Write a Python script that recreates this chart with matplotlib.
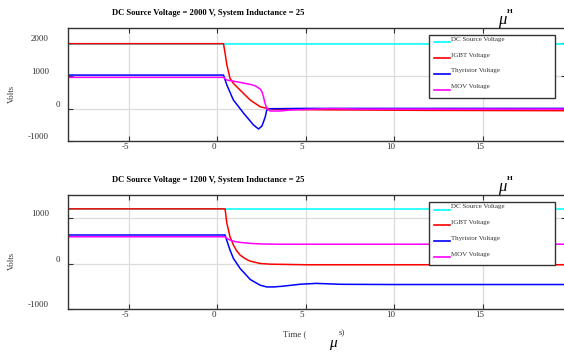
import matplotlib
matplotlib.use('Agg')
import matplotlib.pyplot as plt
from matplotlib.transforms import ScaledTranslation

plt.rcParams['font.family'] = ['Liberation Serif', 'DejaVu Serif']
plt.rcParams['axes.unicode_minus'] = False

# ---- data (time in microseconds, values in volts) ----
names = ['DC Source Voltage', 'IGBT Voltage', 'Thyristor Voltage', 'MOV Voltage']
colors = ['#00ffff', '#ff0000', '#0000ff', '#ff00ff']
xticks = [-5, 0, 5, 10, 15]
yticks = [-1000, 0, 1000, 2000]

# upper panel: 2000 V source
top_dc_t = [-8.42, 19.7]
top_dc_v = [1975, 1975]
top_igbt_t = [-8.42, 0.36, 0.45, 0.55, 0.73, 0.92, 1.3, 1.87, 2.43, 2.8, 3.2, 5, 12, 19.7]
top_igbt_v = [1990, 1990, 1700, 1340, 930, 776, 570, 266, 61, 12, -15, -30, -50, -60]
top_thy_t = [-8.42, 0.36, 0.55, 0.92, 1.5, 2.06, 2.34, 2.53, 2.62, 2.72, 2.8, 3.0, 5, 19.7]
top_thy_v = [1030, 1030, 725, 266, -140, -500, -620, -530, -400, -245, -40, 0, 10, 10]
top_mov_t = [-8.42, 0.36, 0.55, 1.3, 1.87, 2.15, 2.43, 2.53, 2.62, 2.68, 2.8, 3.0, 3.56, 4.1, 5.0, 6.5, 8, 19.7]
top_mov_v = [960, 960, 878, 806, 745, 703, 602, 520, 367, 214, 12, -70, -70, -40, -20, 5, -10, -10]

# lower panel: 1200 V source
bot_dc_t = [-8.42, 19.7]
bot_dc_v = [1200, 1200]
bot_igbt_t = [-8.42, 0.45, 0.55, 0.73, 0.92, 1.1, 1.3, 1.6, 1.87, 2.43, 3.0, 5, 10, 19.7]
bot_igbt_v = [1210, 1210, 892, 596, 413, 290, 192, 110, 60, 8, -7, -20, -20, -20]
bot_thy_t = [-8.42, 0.45, 0.55, 0.73, 0.92, 1.3, 1.87, 2.43, 2.8, 3.2, 3.7, 4.7, 5.6, 7, 10, 19.7]
bot_thy_v = [635, 635, 510, 302, 119, -102, -344, -470, -508, -508, -492, -448, -430, -450, -455, -455]
bot_mov_t = [-8.42, 0.45, 0.55, 0.73, 1.0, 1.3, 1.87, 2.5, 3.5, 19.7]
bot_mov_v = [596, 596, 560, 523, 490, 472, 450, 438, 432, 432]

W, H = 564, 353
fig = plt.figure(figsize=(W / 100, H / 100), dpi=100)


def px_axes(l, t, r, b):
    return fig.add_axes([l / W, 1 - b / H, (r - l) / W, (b - t) / H])


def draw_panel(ax, series, ylim, title, title_y):
    lines = []
    for (t, v), c in zip(series, colors):
        ln, = ax.plot(t, v, color=c, lw=1.1)
        lines.append(ln)
    ax.set_xlim(-8.42, 19.7)
    ax.set_ylim(*ylim)
    ax.set_xticks(xticks)
    ax.set_yticks([y for y in yticks if y <= ylim[1]])
    ax.grid(True, color='#dcdcdc', lw=0.9)
    ax.set_axisbelow(True)
    for s in ax.spines.values():
        s.set_color('#333333')
        s.set_linewidth(1.0)
    ax.tick_params(direction='in', length=3.5, width=0.8, color='#333333',
                   labelcolor='#333333', labelsize=6.5, top=True, right=True)
    ax.tick_params(axis='y', pad=13.7)
    ax.tick_params(axis='x', pad=1.5)
    ax.set_ylabel('Volts', fontsize=6.3, color='#333333')
    ax.yaxis.set_label_coords(-0.112, 0.42)
    ax.yaxis.label.set_va('center')

    leg = ax.legend(lines, names, loc='upper left', bbox_to_anchor=(0.725, 0.3, 0.253, 0.636),
                    mode='expand', borderaxespad=0, fontsize=5, handlelength=2.3,
                    handletextpad=0.1, labelspacing=1.44, borderpad=0.7,
                    fancybox=False, framealpha=1)
    leg.get_frame().set_edgecolor('#333333')
    leg.get_frame().set_linewidth(1.0)
    for h in leg.get_lines():
        h.set_linewidth(1.2)
    for txt in leg.get_texts():
        txt.set_color('#333333')
        txt.set_position((0, 4))

    fig.text(208 / W, 1 - title_y / H, title, ha='center', va='center',
             fontsize=6.1, fontweight='bold')
    fig.text(502 / W, 1 - (title_y + 7) / H, 'μ', ha='center', va='center',
             fontsize=12, style='italic')
    fig.text(510 / W, 1 - (title_y - 1) / H, 'H', ha='center', va='center',
             fontsize=5.4, fontweight='bold')


ax1 = px_axes(68, 27.7, 566, 141.4)
ax2 = px_axes(68, 195, 566, 309.3)

draw_panel(ax1, [(top_dc_t, top_dc_v), (top_igbt_t, top_igbt_v),
                 (top_thy_t, top_thy_v), (top_mov_t, top_mov_v)],
           (-1000, 2480), 'DC Source Voltage = 2000 V, System Inductance = 25', 12.7)
draw_panel(ax2, [(bot_dc_t, bot_dc_v), (bot_igbt_t, bot_igbt_v),
                 (bot_thy_t, bot_thy_v), (bot_mov_t, bot_mov_v)],
           (-1000, 1515), 'DC Source Voltage = 1200 V, System Inductance = 25', 180)

# x axis label, split like the original export
fig.text(283 / W, 1 - 334 / H, 'Time (', ha='left', va='center', fontsize=6.3, color='#333333')
fig.text(339 / W, 1 - 333 / H, 's)', ha='left', va='center', fontsize=6.3, color='#333333')
fig.text(333 / W, 1 - 343 / H, 'μ', ha='center', va='center', fontsize=11, style='italic')

fig.canvas.draw()
for ax in (ax1, ax2):
    for lab in ax.get_yticklabels():
        dx = 11 if lab.get_text() == '0' else 0
        lab.set_transform(lab.get_transform() + ScaledTranslation(dx / 100, 5 / 100, fig.dpi_scale_trans))
    for lab in ax.get_xticklabels():
        lab.set_transform(lab.get_transform() + ScaledTranslation(-3.5 / 100, 0, fig.dpi_scale_trans))

fig.savefig('out.png', dpi=100)
